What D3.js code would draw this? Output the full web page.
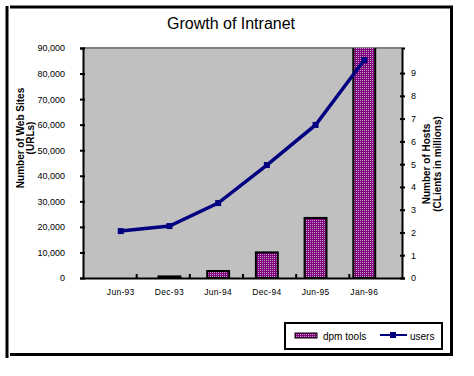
<html>
<head>
<script src="https://d3js.org/d3.v7.min.js" charset="utf-8"></script>
<style>
  body { margin: 0; background: #fff; }
  text { font-family: "Liberation Sans", Arial, sans-serif; }
</style>
</head>
<body>
<div id="viz"></div>
<script>
// data
const categories = ["Jun-93", "Dec-93", "Jun-94", "Dec-94", "Jun-95", "Jan-96"];
const dpmTools   = [130, 623, 2738, 10022, 23500, 100000];   // web sites (left axis), last one runs off the top
const users      = [2.06, 2.28, 3.29, 4.96, 6.72, 9.57];     // millions (right axis)
const leftTicks  = [0, 10000, 20000, 30000, 40000, 50000, 60000, 70000, 80000, 90000];
const rightTicks = [0, 1, 2, 3, 4, 5, 6, 7, 8, 9];
const rightMax   = 10.1;

const width = 474, height = 376;
const plot = { left: 83, right: 402, top: 48, bottom: 278 };

let svg = d3.select("#viz").append("svg").attr("width", width).attr("height", height);
let defs = svg.append("defs");

// pattern for the bars
let pat = defs.append("pattern")
    .attr("id", "dots").attr("width", 2).attr("height", 2)
    .attr("patternUnits", "userSpaceOnUse");
pat.append("rect").attr("width", 2).attr("height", 2).attr("fill", "#800080");
pat.append("rect").attr("width", 1).attr("height", 1).attr("fill", "#c0a0c0");

defs.append("clipPath").attr("id", "plotclip").append("rect")
    .attr("x", plot.left - 2).attr("y", plot.top)
    .attr("width", plot.right - plot.left + 4).attr("height", plot.bottom - plot.top + 2);

// outer frame
svg.append("line").attr("x1", 7).attr("x2", 7).attr("y1", 6).attr("y2", 358)
    .attr("stroke", "#000").attr("stroke-width", 3);
svg.append("line").attr("x1", 10).attr("x2", 453).attr("y1", 7).attr("y2", 7)
    .attr("stroke", "#000").attr("stroke-width", 3);
svg.append("line").attr("x1", 451.5).attr("x2", 451.5).attr("y1", 6).attr("y2", 356)
    .attr("stroke", "#000").attr("stroke-width", 3);
svg.append("line").attr("x1", 10).attr("x2", 453).attr("y1", 354.5).attr("y2", 354.5)
    .attr("stroke", "#000").attr("stroke-width", 3);

svg.append("text").attr("x", 231).attr("y", 29).attr("text-anchor", "middle")
    .style("font-size", "16px").text("Growth of Intranet");

let x = d3.scaleBand().domain(categories).range([plot.left, plot.right]).padding(0.55);
let y = d3.scaleLinear().domain([0, 90000]).range([plot.bottom, plot.top]);
let y2 = d3.scaleLinear().domain([0, rightMax]).range([plot.bottom, plot.top]);

// plot area
svg.append("rect").attr("x", plot.left).attr("y", plot.top)
    .attr("width", plot.right - plot.left).attr("height", plot.bottom - plot.top)
    .attr("fill", "#c0c0c0");
svg.append("line").attr("x1", plot.left).attr("x2", plot.right)
    .attr("y1", plot.top).attr("y2", plot.top)
    .attr("stroke", "#808080").attr("stroke-width", 2);

// bars
svg.append("g").attr("clip-path", "url(#plotclip)")
  .selectAll(".bar").data(dpmTools).join("rect")
    .attr("class", "bar")
    .attr("x", (d, i) => x(categories[i]))
    .attr("y", d => y(d))
    .attr("width", x.bandwidth())
    .attr("height", d => plot.bottom - y(d))
    .attr("fill", "url(#dots)")
    .attr("stroke", "#000").attr("stroke-width", 2)
    .style("display", d => plot.bottom - y(d) >= 1 ? null : "none");

// left axis
let gl = svg.append("g").attr("transform", `translate(${plot.left},0)`)
    .call(d3.axisLeft(y).tickValues(leftTicks).tickFormat(d3.format(",")).tickSize(3).tickPadding(15));
gl.select(".domain").attr("stroke-width", 2);
gl.selectAll(".tick line").attr("x1", 2).attr("stroke-width", 2);
gl.selectAll("text").style("font-size", "9px");

// right axis
let gr = svg.append("g").attr("transform", `translate(${plot.right},0)`)
    .call(d3.axisRight(y2).tickValues(rightTicks).tickSize(3).tickPadding(6));
gr.select(".domain").attr("stroke-width", 2);
gr.selectAll(".tick line").attr("x1", -2).attr("stroke-width", 2);
gr.selectAll("text").style("font-size", "9px");

// bottom axis: labels and ticks between categories
let gb = svg.append("g").attr("transform", `translate(0,${plot.bottom})`)
    .call(d3.axisBottom(x).tickSize(0).tickPadding(11));
gb.select(".domain").attr("stroke-width", 2);
gb.selectAll("text").style("font-size", "8.5px").style("letter-spacing", "0.3px");
let bounds = d3.scaleLinear().domain([0, categories.length]).range([plot.left, plot.right]);
svg.append("g").attr("transform", `translate(0,${plot.bottom})`)
    .call(d3.axisBottom(bounds).tickValues(d3.range(1, categories.length)).tickSize(-4).tickFormat(""))
    .call(g => g.select(".domain").remove())
    .selectAll("line").attr("stroke-width", 2);

// users line
let line = d3.line().x((d, i) => x(categories[i]) + x.bandwidth() / 2).y(d => y2(d));
svg.append("path").datum(users).attr("d", line)
    .attr("fill", "none").attr("stroke", "#000080").attr("stroke-width", 3.5);
svg.selectAll(".pt").data(users).join("rect").attr("class", "pt")
    .attr("x", (d, i) => x(categories[i]) + x.bandwidth() / 2 - 3)
    .attr("y", d => y2(d) - 3)
    .attr("width", 6).attr("height", 6).attr("fill", "#000080");

// axis titles
let lt = svg.append("text").attr("transform", "translate(24,138) rotate(-90)")
    .attr("text-anchor", "middle").style("font-size", "10px").style("font-weight", "bold");
lt.append("tspan").attr("x", 0).attr("y", 0).text("Number of Web Sites");
lt.append("tspan").attr("x", 0).attr("dy", 10).text("(URLs)");

let rt = svg.append("text").attr("transform", "translate(430,164) rotate(-90)")
    .attr("text-anchor", "middle").style("font-size", "10px").style("font-weight", "bold");
rt.append("tspan").attr("x", 0).attr("y", 0).text("Number of Hosts");
rt.append("tspan").attr("x", 0).attr("dy", 11).text("(CLients in millions)");

// legend
let lg = svg.append("g");
lg.append("rect").attr("x", 285).attr("y", 323).attr("width", 157).attr("height", 26)
    .attr("fill", "#fff").attr("stroke", "#000").attr("stroke-width", 2);
lg.append("rect").attr("x", 295).attr("y", 333).attr("width", 22).attr("height", 5)
    .attr("fill", "url(#dots)").attr("stroke", "#000").attr("stroke-width", 1);
lg.append("text").attr("x", 323).attr("y", 340).style("font-size", "10px").text("dpm tools");
lg.append("line").attr("x1", 380).attr("x2", 407).attr("y1", 335).attr("y2", 335)
    .attr("stroke", "#000080").attr("stroke-width", 2);
lg.append("rect").attr("x", 390).attr("y", 332).attr("width", 6).attr("height", 6).attr("fill", "#000080");
lg.append("text").attr("x", 410).attr("y", 340).style("font-size", "10px").text("users");
</script>
</body>
</html>
